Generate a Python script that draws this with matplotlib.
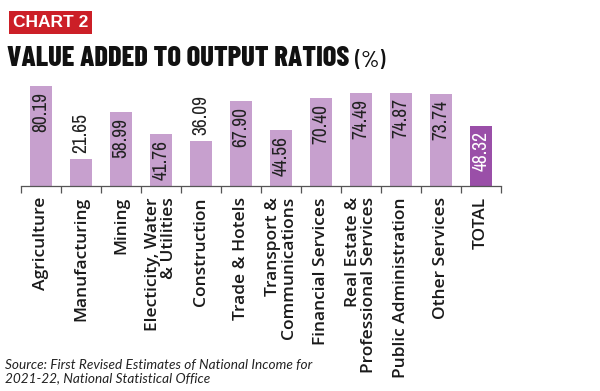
import matplotlib
matplotlib.use('Agg')
import matplotlib.pyplot as plt

# Value added to output ratios (%), 2021-22
sectors = ['Agriculture', 'Manufacturing', 'Mining',
           'Electicity, Water\n& Utilities', 'Construction', 'Trade & Hotels',
           'Transport &\nCommunications', 'Financial Services',
           'Real Estate &\nProfessional Services', 'Public Administration',
           'Other Services', 'TOTAL']
ratios = [80.19, 21.65, 58.99, 41.76, 36.09, 67.90,
          44.56, 70.40, 74.49, 74.87, 73.74, 48.32]
outside = [False, True, False, False, True, False,
           False, False, False, False, False, False]

BAR = '#c7a0ce'
BAR_TOTAL = '#9a4fa8'
RED = '#cc1f27'

COND = ['Barlow Condensed', 'Roboto', 'DejaVu Sans']
NARROW = ['Archivo Narrow', 'Roboto', 'DejaVu Sans']
SANS = ['Open Sans', 'DejaVu Sans']
ITAL = ['Lato', 'DejaVu Sans']

fig = plt.figure(figsize=(6.0, 3.91), dpi=100)
ax = fig.add_axes([0.035, 0.5243, 0.80, 0.2614])

x = list(range(len(sectors)))
colors = [BAR] * (len(sectors) - 1) + [BAR_TOTAL]
ax.bar(x, ratios, width=0.55, color=colors, zorder=2)

ax.set_xlim(-0.5, len(sectors) - 0.5)
ax.set_ylim(0, 82)

# value labels, inside the bar unless the bar is too short
for i, v in enumerate(ratios):
    col = 'white' if sectors[i] == 'TOTAL' else '#222222'
    if outside[i]:
        ax.annotate(f'{v:.2f}', (i, v), xytext=(0, 4.5), textcoords='offset points',
                    rotation=90, ha='center', va='bottom', fontsize=14,
                    family=NARROW, color=col)
    else:
        ax.annotate(f'{v:.2f}', (i, v), xytext=(0, -4), textcoords='offset points',
                    rotation=90, ha='center', va='top', fontsize=14,
                    family=NARROW, color=col)

for s in ['top', 'right', 'left']:
    ax.spines[s].set_visible(False)
ax.spines['bottom'].set_color('#555555')
ax.spines['bottom'].set_linewidth(0.9)
ax.set_yticks([])

ax.set_xticks([i - 0.5 for i in range(len(sectors) + 1)])
ax.set_xticklabels([])
ax.tick_params(axis='x', which='major', length=5, width=0.9, color='#555555')
ax.set_xticks(x, minor=True)
labels = ax.set_xticklabels(sectors, minor=True, rotation=90, ha='center', va='top',
                            multialignment='right', family=SANS,
                            fontsize=12, fontweight='semibold', color='#1a1a1a',
                            linespacing=1.0)
ax.tick_params(axis='x', which='minor', length=0, pad=8)

# header
fig.text(0.022, 0.943, 'CHART 2', fontsize=12.5, fontweight='bold', color='white',
         family=['Liberation Sans', 'DejaVu Sans'], va='center', ha='left',
         bbox=dict(boxstyle='square,pad=0.22', fc=RED, ec='none'))
t = fig.text(0.012, 0.85, 'VALUE ADDED TO OUTPUT RATIOS', fontsize=24,
             fontweight=800, color='#111111', family=COND,
             va='center', ha='left')
src = fig.text(0.008, 0.018,
               'Source: First Revised Estimates of National Income for\n'
               '2021-22, National Statistical Office',
               fontsize=11, style='italic', family=ITAL, color='#222222',
               va='bottom', ha='left', linespacing=1.1)

# size the header, labels and source note to the reference widths
fig.canvas.draw()
t.set_fontsize(24 * 342 / t.get_window_extent().width)
src.set_fontsize(11 * 305 / src.get_window_extent().width)
lab0 = labels[0].get_window_extent().height
for lb in labels:
    lb.set_fontsize(12 * 93 / lab0)
fig.canvas.draw()
bb = t.get_window_extent()
fig.text(bb.x1 / fig.bbox.width + 0.01, 0.843, '(%)', fontsize=17,
         fontweight=500, color='#111111', family=COND,
         va='center', ha='left')

fig.savefig('out.png', dpi=100)
